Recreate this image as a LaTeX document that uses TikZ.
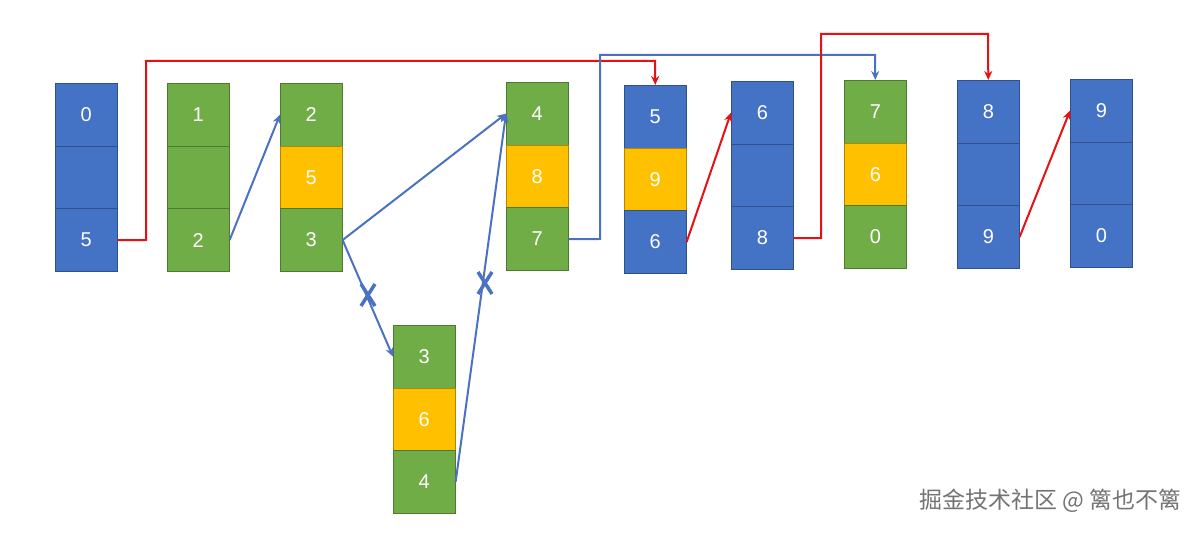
\documentclass[tikz,border=0pt]{standalone}
\usepackage{fontspec}
\setmainfont{Liberation Sans}
\newfontfamily\cjk{Noto Sans CJK SC}
\usetikzlibrary{arrows.meta}
\definecolor{cb}{HTML}{4472C4}
\definecolor{cg}{HTML}{70AD47}
\definecolor{cy}{HTML}{FFC000}
\definecolor{ar}{HTML}{E81010}
\definecolor{ab}{HTML}{4A72C0}
\tikzset{
 cell/.style={draw=#1!70!black, line width=0.6pt, fill=#1, minimum width=62pt, minimum height=62.7pt, inner sep=0, text=white, font=\fontsize{20}{20}\selectfont, anchor=north west},
 rarr/.style={draw=ar, line width=2pt, -{Stealth[length=9pt,width=8pt]}},
 barr/.style={draw=ab, line width=2pt, -{Stealth[length=9pt,width=8pt]}},
 xm/.style={draw=ab, line width=3.5pt},
}
\newcommand\mkcol[9]{%
 \node[cell=#4] (#1a) at (#2,#3) {#5};
 \node[cell=#6] (#1b) at (#2,#3+62.7) {#7};
 \node[cell=#8] (#1c) at (#2,#3+125.4) {#9};}
\begin{document}
\begin{tikzpicture}[x=1pt,y=-1pt]
\useasboundingbox (0,0) rectangle (1201,534);
\mkcol{k0}{55}{83}{cb}{0}{cb}{}{cb}{5}
\mkcol{k1}{167}{83}{cg}{1}{cg}{}{cg}{2}
\mkcol{k2}{280}{83}{cg}{2}{cy}{5}{cg}{3}
\mkcol{k3}{393}{325}{cg}{3}{cy}{6}{cg}{4}
\mkcol{k4}{506}{82}{cg}{4}{cy}{8}{cg}{7}
\mkcol{k5}{624}{85}{cb}{5}{cy}{9}{cb}{6}
\mkcol{k6}{731}{81}{cb}{6}{cb}{}{cb}{8}
\mkcol{k7}{844}{80}{cg}{7}{cy}{6}{cg}{0}
\mkcol{k8}{957}{80}{cb}{8}{cb}{}{cb}{9}
\mkcol{k9}{1070}{79}{cb}{9}{cb}{}{cb}{0}
% arrows
\draw[rarr] (k0c.east) -- (146,240) -- (146,61) -- (655,61) -- (k5a.north);
\draw[barr] (k1c.east) -- (k2a.west);
\draw[barr] (k2c.east) -- (k4a.west);
\draw[barr] (k2c.east) -- (k3a.west);
\draw[barr] (k3c.east) -- (k4a.west);
\draw[barr] (k4c.east) -- (600,239) -- (600,55) -- (875,55) -- (k7a.north);
\draw[rarr] (k5c.east) -- (k6a.west);
\draw[rarr] (k6c.east) -- (821,238) -- (821,34) -- (988,34) -- (k8a.north);
\draw[rarr] (k8c.east) -- (k9a.west);
% crosses
\coordinate (x1) at (368,295);
\coordinate (x2) at (485,283);
\draw[xm] ([shift={(-7,-11)}]x1) -- ([shift={(7,11)}]x1);
\draw[xm] ([shift={(7,-11)}]x1) -- ([shift={(-7,11)}]x1);
\draw[xm] ([shift={(-7,-11)}]x2) -- ([shift={(7,11)}]x2);
\draw[xm] ([shift={(7,-11)}]x2) -- ([shift={(-7,11)}]x2);
\node[text=gray!90!black, font=\cjk\fontsize{23}{23}\selectfont, anchor=east] (wm) at (1185,501) {掘金技术社区 @ 篱也不篱};
\end{tikzpicture}
\end{document}
